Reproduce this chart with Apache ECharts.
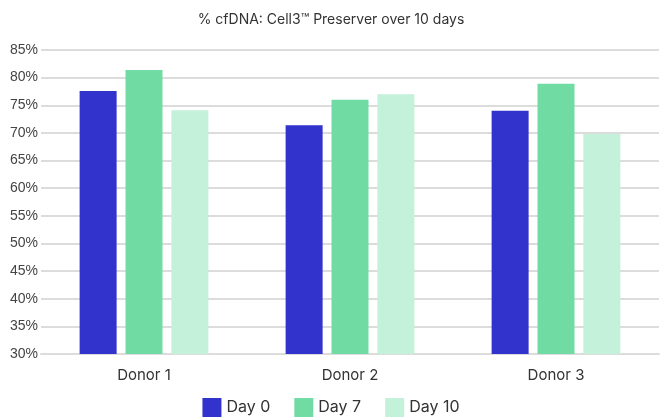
<!DOCTYPE html>
<html>
<head>
<meta charset="utf-8">
<script src="https://cdn.jsdelivr.net/npm/echarts@6/dist/echarts.min.js"></script>
<style>
  html, body { margin: 0; padding: 0; background: #fff; }
  #chart { width: 662px; height: 417px; }
</style>
</head>
<body>
<div id="chart"></div>
<script>
// Percent cfDNA per donor, measured on three days
const donors = ['Donor 1', 'Donor 2', 'Donor 3'];
const seriesNames = ['Day 0', 'Day 7', 'Day 10'];
const day0 = [77.6, 71.4, 74.0];
const day7 = [81.4, 76.0, 78.9];
const day10 = [74.1, 77.0, 69.8];
const yTicks = [30, 35, 40, 45, 50, 55, 60, 65, 70, 75, 80, 85];

const colors = ['#3232cc', '#70dba3', '#c4f1da'];
const values = [day0, day7, day10];
const uiFont = 'Inter, "Open Sans", sans-serif';

const chart = echarts.init(document.getElementById('chart'));
chart.setOption({
  animation: false,
  title: {
    text: '% cfDNA: Cell3™ Preserver over 10 days',
    left: 'center',
    top: 8,
    textStyle: { fontFamily: uiFont, fontSize: 14, fontWeight: 'normal', color: '#333' }
  },
  legend: {
    bottom: 0,
    left: 'center',
    padding: 0,
    itemWidth: 19,
    itemHeight: 19,
    itemGap: 24,
    icon: 'rect',
    textStyle: { fontFamily: uiFont, fontSize: 16, color: '#333' },
    data: seriesNames
  },
  grid: { left: 41, right: 3, top: 50, bottom: 63 },
  xAxis: {
    type: 'category',
    data: donors,
    axisTick: { show: false },
    axisLine: { show: true, lineStyle: { color: '#dcdcdc', width: 2 } },
    axisLabel: { fontFamily: uiFont, fontSize: 15, color: '#333', margin: 14 }
  },
  yAxis: {
    type: 'value',
    min: yTicks[0],
    max: yTicks[yTicks.length - 1],
    interval: yTicks[1] - yTicks[0],
    axisLine: { show: false },
    axisTick: { show: false },
    splitLine: { lineStyle: { color: '#dcdcdc', width: 2 } },
    axisLabel: {
      fontFamily: '"Liberation Sans", Arial, sans-serif',
      fontSize: 14,
      color: '#444',
      margin: 3,
      formatter: v => v + '%'
    }
  },
  series: seriesNames.map((name, i) => ({
    name: name,
    type: 'bar',
    data: values[i],
    barWidth: 37,
    barGap: '24%',
    itemStyle: { color: colors[i] }
  }))
});
</script>
</body>
</html>
